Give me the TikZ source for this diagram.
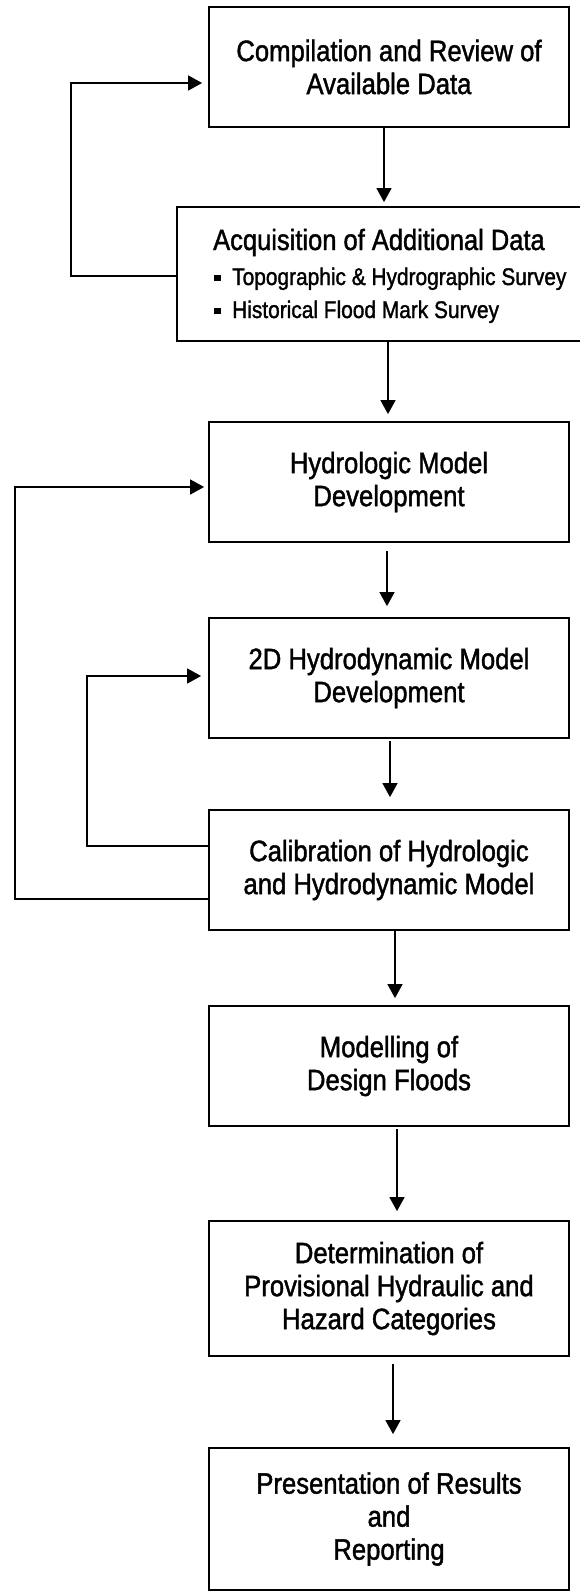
\documentclass[tikz,border=0pt]{standalone}
\usepackage{fontspec}
\setmainfont{Liberation Sans}[FakeStretch=0.87, FakeBold=1.4]
\usetikzlibrary{arrows.meta}
\begin{document}
\begin{tikzpicture}[x=1pt,y=-1pt,
  box/.style={draw, line width=1.8pt, minimum width=360pt, minimum height=120pt, inner sep=0pt, align=center, font=\fontsize{29.5}{33}\selectfont},
  lbl/.style={inner sep=0pt, anchor=base west},
  arr/.style={line width=1.4pt, -{Triangle[width=15pt,length=14pt]}}]
\useasboundingbox (0,0) rectangle (579,1593);
\node[box] (b1) at (389,67) {Compilation and Review of\\Available Data};
\node[box, minimum width=404pt, minimum height=134pt] (b2) at (379,274) {};
\node[lbl, font=\fontsize{29.3}{33}\selectfont] (b2a) at (213,250) {Acquisition of Additional Data};
\node[lbl, font=\fontsize{24}{28}\selectfont] (b2b) at (214,285) {\rule[4pt]{6.5pt}{6.5pt}\hspace{11.5pt}Topographic \& Hydrographic Survey};
\node[lbl, font=\fontsize{24}{28}\selectfont] (b2c) at (214,318) {\rule[4pt]{6.5pt}{6.5pt}\hspace{11.5pt}Historical Flood Mark Survey};
\node[box] (b3) at (389,482) {Hydrologic Model\\Development};
\node[box] (b4) at (389,678) {2D Hydrodynamic Model\\Development};
\node[box] (b5) at (389,870) {Calibration of Hydrologic\\and Hydrodynamic Model};
\node[box] (b6) at (389,1066) {Modelling of\\Design Floods};
\node[box, minimum height=135pt] (b7) at (389,1288.5) {Determination of\\Provisional Hydraulic and\\Hazard Categories};
\node[box, minimum height=142pt] (b8) at (389,1519) {Presentation of Results\\and\\Reporting};
% forward arrows
\draw[arr] ([xshift=-5pt]b1.south) -- ([xshift=-5pt,yshift=4pt]b2.north -| b1.south);
\draw[arr] ([xshift=9pt]b2.south) -- ([xshift=-1pt,yshift=7pt]b3.north);
\draw[arr] ([xshift=-2pt,yshift=-8pt]b3.south) -- ([xshift=-2pt,yshift=11pt]b4.north);
\draw[arr] ([xshift=1pt,yshift=-2pt]b4.south) -- ([xshift=1pt,yshift=12pt]b5.north);
\draw[arr] ([xshift=6pt,yshift=2pt]b5.south) -- ([xshift=6pt,yshift=7pt]b6.north);
\draw[arr] ([xshift=8pt,yshift=-2pt]b6.south) -- ([xshift=8pt,yshift=9pt]b7.north);
\draw[arr] ([xshift=4pt,yshift=-7pt]b7.south) -- ([xshift=4pt,yshift=13pt]b8.north);
% feedback loops
\draw[arr] ([yshift=-2pt]b2.west) -- ++(-105,0) |- ([xshift=-6pt,yshift=-16pt]b1.west);
\draw[arr] ([yshift=-29pt]b5.west) -- ++(-193,0) |- ([xshift=-4pt,yshift=-5pt]b3.west);
\draw[arr] ([yshift=24pt]b5.west) -- ++(-121,0) |- ([xshift=-7pt,yshift=2pt]b4.west);
\end{tikzpicture}
\end{document}
